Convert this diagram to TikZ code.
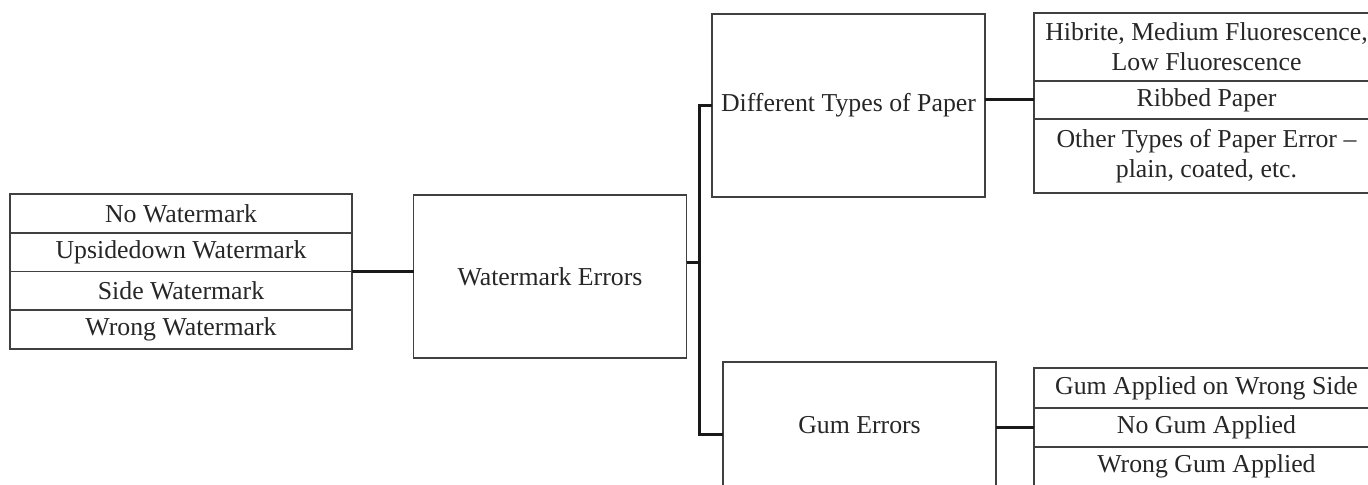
\documentclass[tikz,border=0pt]{standalone}
\usepackage{fontspec}
\setmainfont{Liberation Serif}
\usetikzlibrary{positioning,calc}

\tikzset{
  box/.style={draw=black!75, line width=0.75pt, rectangle, inner sep=0pt, outer sep=0pt, align=center, text=black!85},
  row/.style={box, minimum width=171pt, minimum height=19.4pt},
  sub/.style={box, minimum width=172.5pt},
  big/.style={box, minimum width=136.5pt},
  link/.style={draw=black!90, line width=1.5pt}
}

\begin{document}
\begin{tikzpicture}[x=0.5pt, y=-0.5pt, font=\fontsize{12.9pt}{15pt}\selectfont]
\clip (0,0) rectangle (1368,485);

% watermark types
\node[row] (nowm) at (181,213.4) {No Watermark};
\node[row] (upwm) at (181,252.1) {Upsidedown Watermark};
\node[row] (sidewm) at (181,290.9) {Side Watermark};
\node[row] (wrongwm) at (181,329.6) {Wrong Watermark};

% main boxes
\node[big, minimum height=81.5pt] (wm) at (550,276.5) {Watermark Errors};
\node[big, minimum height=91.5pt] (paper) at (848.5,105.5) {Different Types of Paper};
\node[big, minimum height=63pt] (gum) at (859.5,425) {Gum Errors};

% paper types
\node[sub, minimum height=34pt] (hibrite) at (1206.5,47) {Hibrite, Medium Fluorescence,\\ Low Fluorescence};
\node[sub, minimum height=19pt] (ribbed) at (1206.5,100) {Ribbed Paper};
\node[sub, minimum height=37pt] (otherpaper) at (1206.5,156) {Other Types of Paper Error --\\ plain, coated, etc.};

% gum types
\node[sub, minimum height=20pt] (wrongside) at (1206.5,388) {Gum Applied on Wrong Side};
\node[sub, minimum height=19.5pt] (nogum) at (1206.5,427.5) {No Gum Applied};
\node[sub, minimum height=19.5pt] (wronggum) at (1206.5,466.5) {Wrong Gum Applied};

% connections
\coordinate (fork) at (699,263);
\draw[link] (upwm.south east) -- (upwm.south east -| wm.west);
\draw[link] (fork -| wm.east) -- (fork);
\draw[link] (paper.west) -| (fork) |- ([yshift=-4.5pt]gum.west);
\draw[link] (ribbed.west) -- (ribbed.west -| paper.east);
\draw[link] (nogum.west) -- (nogum.west -| gum.east);
\end{tikzpicture}
\end{document}
